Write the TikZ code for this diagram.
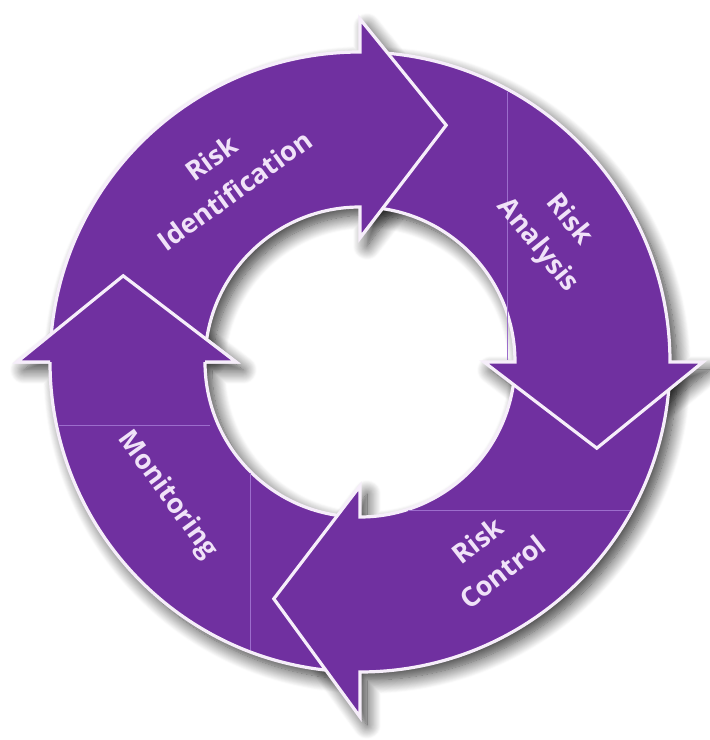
\documentclass[tikz,border=0pt]{standalone}
\usepackage{fontspec}
\setmainfont{Open Sans}[Ligatures=NoCommon]
\usetikzlibrary{shadows.blur}
\definecolor{ringpurple}{HTML}{7030A0}
\definecolor{ringline}{HTML}{F6EEFA}
\definecolor{labeltext}{HTML}{F0E2F8}
\definecolor{gridline}{HTML}{9C6DCC}
% #1 base angle of the head, #2 radius of the outer barb
\newcommand{\cyclearrow}[2]{(#1+87:310pt) arc[start angle=#1+87, end angle=#1, radius=310pt] -- (#1:#2) -- (#1-20:252pt) -- (#1:124pt) -- (#1:155pt) arc[start angle=#1, end angle=#1+87, radius=155pt]}
\begin{document}
\begin{tikzpicture}[x=1pt,y=1pt,
  arrowfill/.style={fill=ringpurple},
  arrowline/.style={draw=ringline, line width=3.2pt, line join=miter, miter limit=10},
  arrowshadow/.style={blur shadow={shadow xshift=7pt, shadow yshift=-8pt, shadow blur radius=14pt, shadow blur steps=16, shadow opacity=80}},
  steplabel/.style={text=labeltext, font=\bfseries\fontsize{27}{40}\selectfont, align=center, inner sep=0pt},
  sepline/.style={draw=gridline, line width=0.9pt}]
\useasboundingbox (0,0) rectangle (710,740);
\begin{scope}[shift={(360,378)}]
  % shadows
  \foreach \b/\r in {180/343pt, 270/355pt, 0/343pt, 90/343pt}{
    \path[arrowshadow] \cyclearrow{\b}{\r} -- cycle;
  }
  % arrows, each head over the next shaft
  \foreach \b/\r in {180/343pt, 270/355pt, 0/343pt, 90/343pt}{
    \fill[arrowfill] \cyclearrow{\b}{\r} -- cycle;
    \draw[arrowline] \cyclearrow{\b}{\r};
  }
  % head of Monitoring redrawn over the Identification shaft
  \fill[arrowfill] (180:343pt) -- (160:252pt) -- (180:124pt) -- cycle;
  \draw[arrowline] (180:310pt) -- (180:343pt) -- (160:252pt) -- (180:124pt) -- (180:155pt);
\end{scope}
% thin grid lines
\draw[sepline] (507,648) -- (507,380);
\draw[sepline] (59,315) -- (210,315);
\draw[sepline] (250,267) -- (250,90);
\draw[sepline] (408,230) -- (630,230);
% labels
\node[steplabel, rotate=36] (identification) at (223,566) {Risk\\Identification};
\node[steplabel, rotate=-51] (analysis) at (553,507) {Risk\\Analysis};
\node[steplabel, rotate=-54] (monitoring) at (167,245) {Monitoring};
\node[steplabel, rotate=38] (control) at (490,184) {Risk\\Control};
\end{tikzpicture}
\end{document}
